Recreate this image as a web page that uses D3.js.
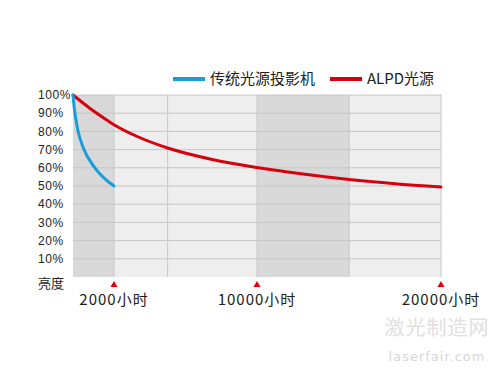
<!DOCTYPE html>
<html>
<head>
<meta charset="utf-8">
<script src="https://cdn.jsdelivr.net/npm/d3@7"></script>
<style>
body { margin: 0; background: #fff; }
text { font-family: "Noto Sans CJK SC", "Liberation Sans", sans-serif; }
</style>
</head>
<body>
<div id="chart"></div>
<script>
// ---- data ----
var seriesNames = ["传统光源投影机", "ALPD光源"];
var seriesColors = ["#1a9ddb", "#d9000d"];
var lampHours = [0, 60, 230, 500, 1070, 2000];
var lampValues = [100, 93, 81, 71, 60, 50];
var alpdHours = [0, 800, 1500, 2000, 3300, 5000, 7500, 10000, 12500, 15000, 17500, 20000];
var alpdValues = [100, 92.9, 87.4, 83.7, 77.2, 70.9, 64.6, 60.2, 56.6, 53.6, 51.3, 49.5];
var yTicks = [10, 20, 30, 40, 50, 60, 70, 80, 90, 100];
var xGrid = [2000, 5000, 10000, 15000, 20000];
var xLabels = [2000, 10000, 20000];
var bands = [[0, 2000], [10000, 15000]];

const width = 500;
const height = 375;

const svg = d3.select("#chart").append("svg")
    .attr("width", width)
    .attr("height", height);

//-----------------------------SCALES----------------------------//
var xScale = d3.scaleLinear()
    .domain([0, 2000, 10000, 20000])
    .range([73, 114, 257, 441]);
var yScale = d3.scaleLinear().domain([0, 100]).range([277, 95]);

//---------------------------BACKGROUND--------------------------//
svg.append("rect")
    .attr("x", xScale(0))
    .attr("y", yScale(100))
    .attr("width", xScale(20000) - xScale(0))
    .attr("height", yScale(0) - yScale(100))
    .attr("fill", "#eeeeee");

svg.selectAll(".band").data(bands).enter().append("rect")
    .attr("class", "band")
    .attr("x", d => xScale(d[0]))
    .attr("y", yScale(100))
    .attr("width", d => xScale(d[1]) - xScale(d[0]))
    .attr("height", yScale(0) - yScale(100))
    .attr("fill", "#d9d9d9");

// horizontal grid
svg.selectAll(".hgrid").data(yTicks).enter().append("line")
    .attr("x1", xScale(0))
    .attr("x2", xScale(20000))
    .attr("y1", d => yScale(d))
    .attr("y2", d => yScale(d))
    .attr("stroke", "#c6c6c6")
    .attr("stroke-width", 1);

// vertical grid
svg.selectAll(".vgrid").data(xGrid).enter().append("line")
    .attr("x1", d => xScale(d))
    .attr("x2", d => xScale(d))
    .attr("y1", yScale(100))
    .attr("y2", yScale(0))
    .attr("stroke", "#c6c6c6")
    .attr("stroke-width", 1);

//-----------------------------AXES------------------------------//
svg.selectAll(".ylab").data(yTicks).enter().append("text")
    .attr("x", 38)
    .attr("y", d => yScale(d))
    .attr("dy", "0.35em")
    .style("font-family", "'Liberation Sans', sans-serif")
    .style("font-size", "12px")
    .style("letter-spacing", "0.6px")
    .attr("fill", "#222")
    .text(d => d + "%");

svg.append("text")
    .attr("x", 38)
    .attr("y", 283)
    .attr("dy", "0.35em")
    .style("font-size", "13px")
    .attr("fill", "#222")
    .text("亮度");

var tri = d3.symbol().type(d3.symbolTriangle).size(22);
svg.selectAll(".tick-tri").data(xLabels).enter().append("path")
    .attr("d", tri)
    .attr("transform", d => "translate(" + xScale(d) + ",285)")
    .attr("fill", "#e0000f");

svg.selectAll(".xlab").data(xLabels).enter().append("text")
    .attr("x", d => xScale(d))
    .attr("y", 300)
    .attr("dy", "0.35em")
    .attr("text-anchor", "middle")
    .style("font-size", "15px")
    .style("letter-spacing", "1px")
    .attr("fill", "#222")
    .text(d => d + "小时");

//----------------------------LINES------------------------------//
var line = d3.line()
    .x(d => xScale(d[0]))
    .y(d => yScale(d[1]))
    .curve(d3.curveMonotoneX);

svg.append("path")
    .attr("fill", "none")
    .attr("stroke", seriesColors[1])
    .attr("stroke-width", 3)
    .attr("stroke-linecap", "round")
    .attr("d", line(d3.zip(alpdHours, alpdValues)));

svg.append("path")
    .attr("fill", "none")
    .attr("stroke", seriesColors[0])
    .attr("stroke-width", 3)
    .attr("stroke-linecap", "round")
    .attr("d", line(d3.zip(lampHours, lampValues)));

//----------------------------LEGEND-----------------------------//
var legendX = [173, 330];
var legend = svg.selectAll(".legend").data(seriesNames).enter().append("g")
    .attr("transform", (d, i) => "translate(" + legendX[i] + ",79)");
legend.append("line")
    .attr("x1", 0).attr("x2", 32)
    .attr("stroke", (d, i) => seriesColors[i])
    .attr("stroke-width", 4);
legend.append("text")
    .attr("x", 37)
    .attr("dy", "0.35em")
    .style("font-size", "15px")
    .attr("fill", "#222")
    .text(d => d);

//---------------------------WATERMARK---------------------------//
svg.append("text")
    .attr("x", 437).attr("y", 328)
    .attr("dy", "0.35em")
    .attr("text-anchor", "middle")
    .style("font-size", "20px")
    .style("letter-spacing", "1px")
    .attr("fill", "#e0e0e0")
    .text("激光制造网");
svg.append("text")
    .attr("x", 437).attr("y", 356)
    .attr("dy", "0.35em")
    .attr("text-anchor", "middle")
    .style("font-family", "'DejaVu Sans', sans-serif")
    .style("font-size", "13px")
    .style("letter-spacing", "1px")
    .attr("fill", "#d6d6d6")
    .text("laserfair.com");
</script>
</body>
</html>
